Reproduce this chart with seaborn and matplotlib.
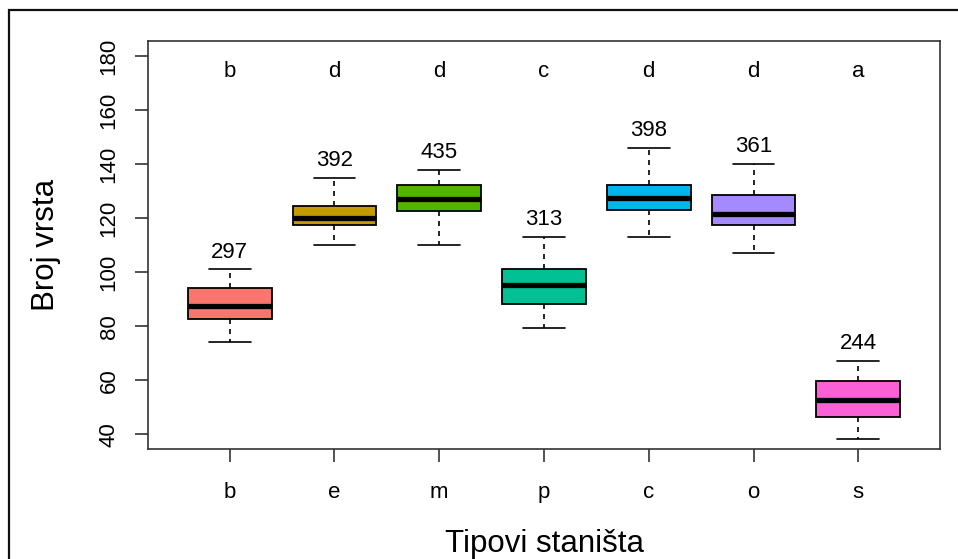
import pandas as pd
import matplotlib.pyplot as plt
import seaborn as sns
from matplotlib.patches import Rectangle

# Five-number summaries
habitats = ['b', 'e', 'm', 'p', 'c', 'o', 's']
whisker_low = [74.1, 110.1, 110.0, 79.2, 113.2, 107.2, 38.2]
q1 = [82.5, 117.4, 122.6, 88.2, 123.1, 117.5, 46.2]
median = [87.6, 120.2, 127.1, 95.2, 127.6, 121.6, 52.6]
q3 = [94.1, 124.5, 132.4, 101.0, 132.4, 128.5, 59.6]
whisker_high = [101.0, 135.0, 138.0, 113.2, 146.0, 140.0, 67.1]

# number of species per habitat and significance letters
totals = [297, 392, 435, 313, 398, 361, 244]
letters = ['b', 'd', 'd', 'c', 'd', 'd', 'a']

colors = ['#F8766D', '#C49A00', '#53B400', '#00C094', '#00B6EB', '#A58AFF', '#FB61D7']

# long table: the five summary points per habitat reproduce the boxes
rows = []
for i, h in enumerate(habitats):
    for v in (whisker_low[i], q1[i], median[i], q3[i], whisker_high[i]):
        rows.append({'habitat': h, 'value': v})
df = pd.DataFrame(rows)

sns.set_theme(style='ticks')
plt.rcParams['font.family'] = ['Liberation Sans', 'DejaVu Sans']
plt.rcParams['text.color'] = 'black'
plt.rcParams['axes.labelcolor'] = 'black'

fig = plt.figure(figsize=(9.58, 5.59), dpi=100)
ax = fig.add_axes([0.1545, 0.1962, 0.8267, 0.7305])

sns.boxplot(data=df, x='habitat', y='value', hue='habitat', order=habitats,
            palette=colors, saturation=1, width=0.8, whis=(0, 100), showfliers=False,
            linecolor='black', linewidth=1.3, legend=False, ax=ax,
            medianprops=dict(linewidth=3.8, color='black'),
            whiskerprops=dict(linestyle=(0, (3, 3)), linewidth=1.2),
            capprops=dict(linewidth=1.2))

for i in range(len(habitats)):
    ax.annotate(str(totals[i]), xy=(i, whisker_high[i]), xytext=(0, 8.5),
                textcoords='offset points', ha='center', va='baseline',
                fontsize=16, color='black')
    ax.text(i, 172.3, letters[i], ha='center', va='baseline', fontsize=16, color='black')

ax.set_xlim(-0.78, 6.78)
ax.set_ylim(34.4, 185.6)
ax.set_yticks(range(40, 181, 20))
ax.set_xlabel('Tipovi staništa', fontsize=22.5, labelpad=18.5)
ax.set_ylabel('Broj vrsta', fontsize=22.5, labelpad=27)

ax.tick_params(axis='both', labelsize=16, length=9.4, width=1.2,
               color='#333333', labelcolor='black')
ax.tick_params(axis='x', pad=14)
ax.tick_params(axis='y', pad=11)
for lab in ax.get_yticklabels():
    lab.set_rotation(90)
    lab.set_va('center')

for sp in ax.spines.values():
    sp.set_visible(True)
    sp.set_color('#333333')
    sp.set_linewidth(1.2)

# outer frame of the original figure (only top and left edges visible)
fig.add_artist(Rectangle((9 / 958, -0.2), 1.2, 0.2 + 1 - 10 / 559,
                         transform=fig.transFigure, fill=False,
                         edgecolor='#111111', linewidth=1.6, clip_on=False))

fig.savefig('out.png', dpi=100)
